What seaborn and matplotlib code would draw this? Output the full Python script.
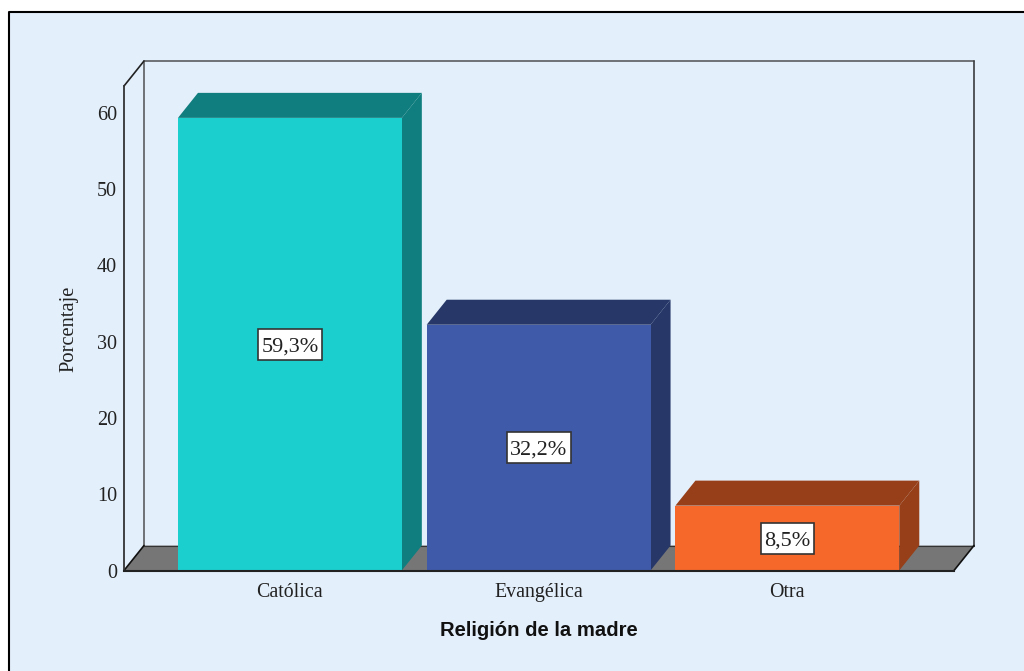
import matplotlib
matplotlib.use("Agg")
import matplotlib.pyplot as plt
from matplotlib.patches import Rectangle
import pandas as pd
import seaborn as sns

categories = ["Católica", "Evangélica", "Otra"]
values = [59.3, 32.2, 8.5]
labels = ["59,3%", "32,2%", "8,5%"]
front_colors = ["#1BCFCF", "#3F5AA8", "#F5682A"]
side_colors = ["#107E7E", "#263768", "#973F18"]
y_ticks = [0, 10, 20, 30, 40, 50, 60]

W, H = 1024, 671
BG = "#E3EFFB"
SERIF = "Liberation Serif"
DEPTH_X, DEPTH_Y = 20, 25  # pixels of the fake 3D depth

sns.set_theme(style="white")
fig = plt.figure(figsize=(W / 100, H / 100), dpi=100, facecolor="white")

# Panel background with a black frame on its top and left only
fig.add_artist(Rectangle((8.5 / W, 0), 1, 1 - 11.5 / H, transform=fig.transFigure,
                         facecolor=BG, edgecolor="none", zorder=-5))
fig.add_artist(plt.Line2D([8.5 / W, 8.5 / W, 1], [0, 1 - 11.5 / H, 1 - 11.5 / H],
                          transform=fig.transFigure, color="black", lw=1.5, zorder=-4))

# Front plane of the chart box
L, R, B, T = 124, 954, 570.5, 86
ax = fig.add_axes([L / W, 1 - B / H, (R - L) / W, (B - T) / H])
ax.patch.set_alpha(0)

df = pd.DataFrame({"cat": categories, "val": values})
sns.barplot(data=df, x="cat", y="val", hue="cat", order=categories,
            palette=front_colors, legend=False, width=0.9, saturation=1,
            ax=ax, zorder=5, linewidth=0)

ax.set_xlim(-0.667, 2.67)
ax.set_ylim(0, (B - T) / 7.633)
x_px = (R - L) / (ax.get_xlim()[1] - ax.get_xlim()[0])
y_px = 7.633
dx = DEPTH_X / x_px
dy = DEPTH_Y / y_px
x0, x1 = ax.get_xlim()
y0, y1 = ax.get_ylim()

# Floor and back walls
ax.fill([x0, x1, x1 + dx, x0 + dx], [0, 0, dy, dy], color="#767676", lw=0, zorder=1, clip_on=False)
ax.plot([x0 + dx, x0 + dx, x1 + dx], [dy, y1 + dy, y1 + dy],
        color="#6E7276", lw=1.4, zorder=1.5, clip_on=False)
ax.plot([x1 + dx, x1 + dx], [dy, y1 + dy], color="#3A3D40", lw=1.2, zorder=1.6, clip_on=False)
ax.plot([x0 + dx, x1 + dx], [dy, dy], color="#333333", lw=0.8, zorder=1.6, clip_on=False)
ax.plot([x0, x0 + dx], [y1, y1 + dy], color="#222222", lw=1.2, zorder=2, clip_on=False)
ax.plot([x0, x0 + dx], [0, dy], color="#111111", lw=1.2, zorder=2, clip_on=False)
ax.plot([x1, x1 + dx], [0, dy], color="#111111", lw=1.2, zorder=2, clip_on=False)

# Bar depth faces and value labels
renderer = fig.canvas.get_renderer()
for patch, val, side, lab in zip(ax.patches, values, side_colors, labels):
    a = patch.get_x()
    b = a + patch.get_width()
    ax.fill([a, b, b + dx, a + dx], [val, val, val + dy, val + dy], color=side, lw=0, zorder=4, clip_on=False)
    ax.fill([b, b + dx, b + dx, b], [0, dy, val + dy, val], color=side, lw=0, zorder=4, clip_on=False)
    cx, cy = (a + b) / 2, val / 2
    t = ax.text(cx, cy, lab, ha="center", va="center_baseline", zorder=8,
                family=SERIF, fontsize=16, color="#222222")
    bw = (t.get_window_extent(renderer).width + 7) / x_px
    bh = 31 / y_px
    ax.add_patch(Rectangle((cx - bw / 2, cy - bh / 2), bw, bh, fc="white",
                           ec="#333333", lw=1.2, zorder=7))

# Axes lines and ticks
for s in ["top", "right"]:
    ax.spines[s].set_visible(False)
ax.spines["left"].set(color="#333333", linewidth=1.3, zorder=3)
ax.spines["bottom"].set(color="#222222", linewidth=1.5, zorder=6)
ax.set_yticks(y_ticks)
ax.set_xticks(range(len(categories)))
ax.set_xticklabels(categories)
ax.tick_params(axis="y", length=0, pad=5, labelsize=14.5, labelcolor="#222222")
ax.tick_params(axis="x", length=0, pad=9, labelsize=14.3, labelcolor="#222222")
for t in ax.get_xticklabels() + ax.get_yticklabels():
    t.set_family(SERIF)

ax.set_xlabel("")
ax.set_ylabel("")
fig.text(539 / W, 1 - 630 / H, "Religión de la madre", ha="center", va="center",
         family="Liberation Sans", fontweight="bold", fontsize=14.6, color="#111111")
fig.text(69 / W, 1 - 328.5 / H, "Porcentaje", rotation=90, ha="center", va="center",
         family=SERIF, fontsize=14.8, color="#222222")

fig.savefig("out.png", dpi=100)
